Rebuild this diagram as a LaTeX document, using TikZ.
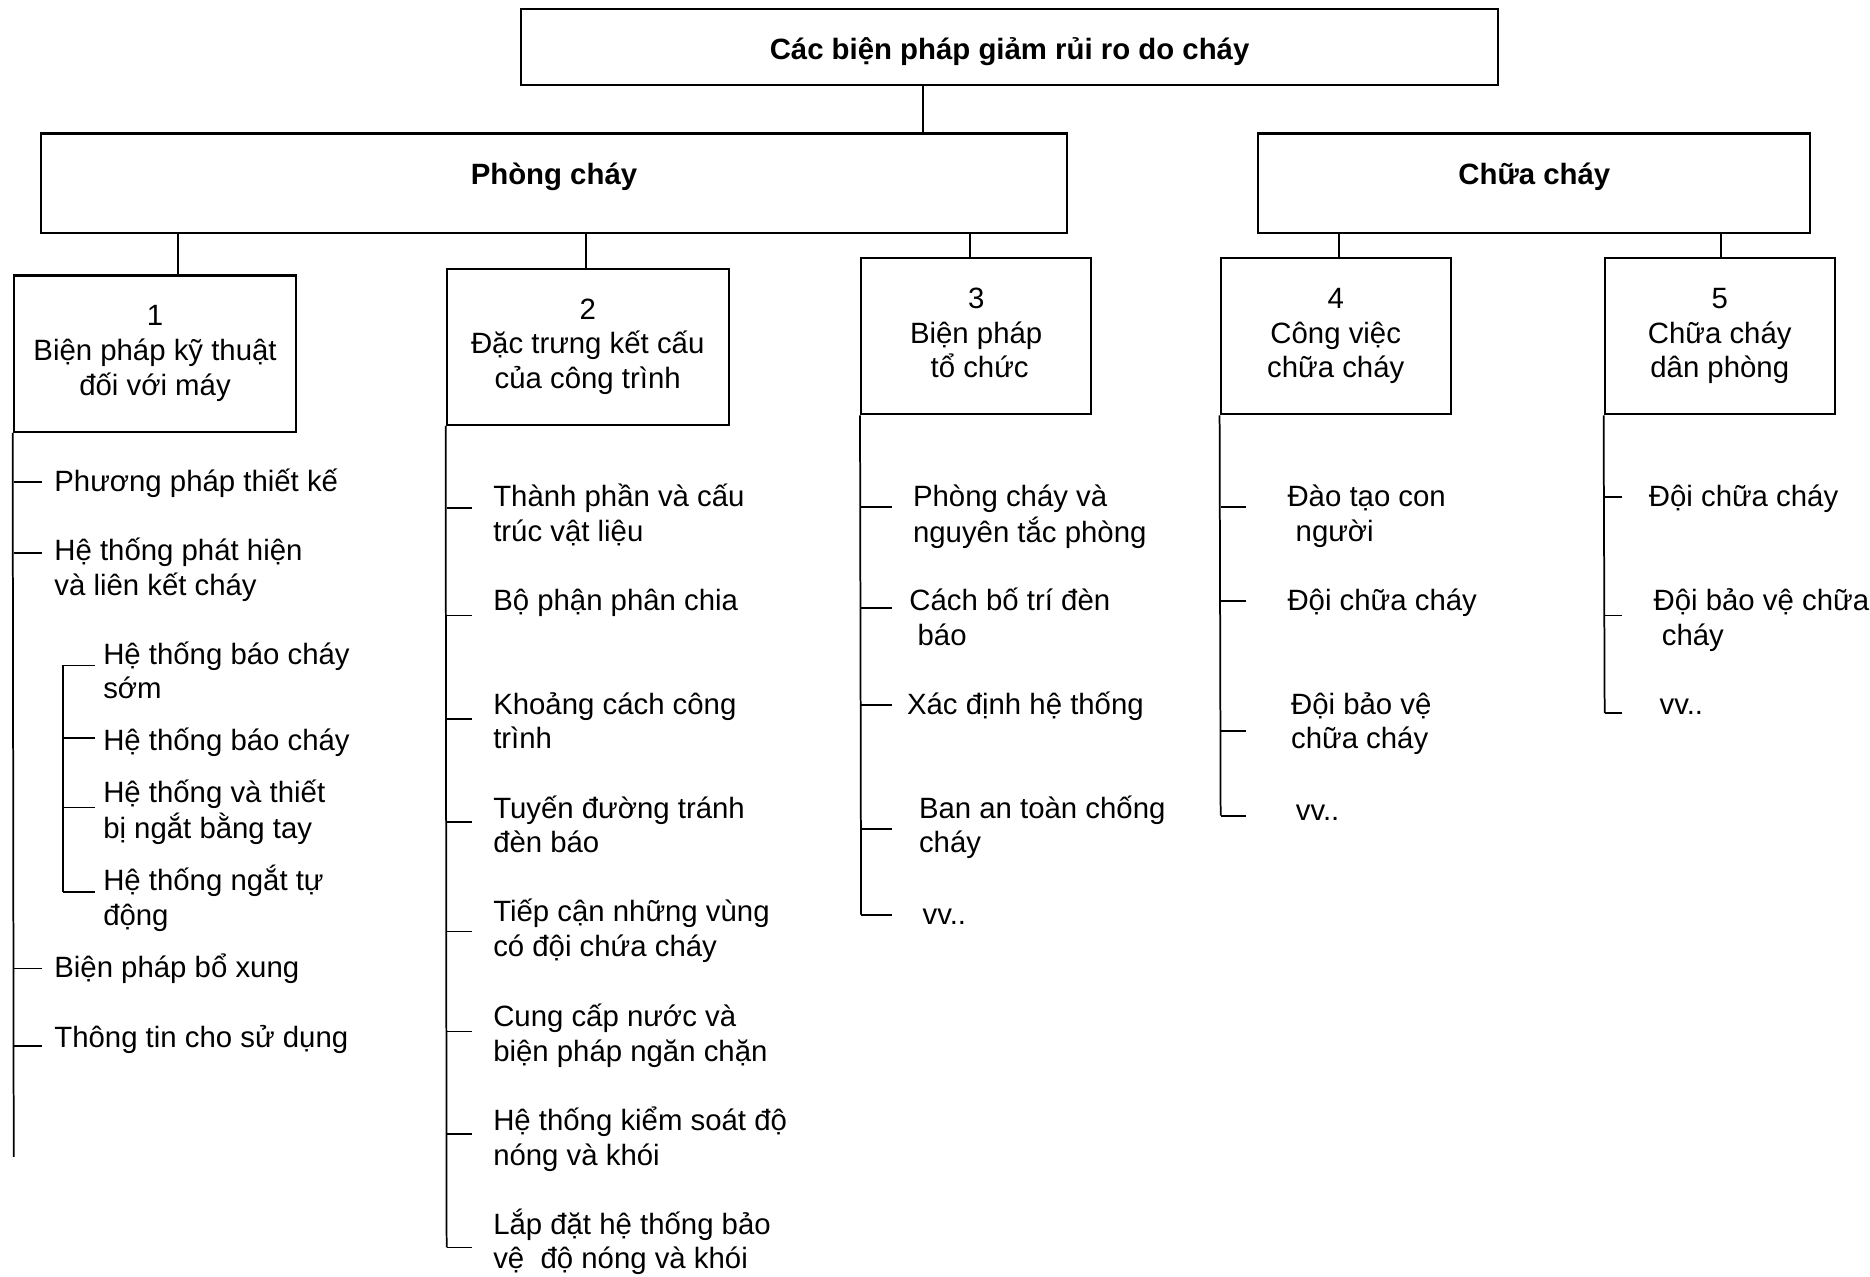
\documentclass[tikz,border=0pt]{standalone}
\usepackage{fontspec}
\setmainfont{Liberation Sans}
\newcommand\ml[1]{\begin{tabular}[t]{@{}l@{}}#1\end{tabular}}
\newcommand\mc[1]{\begin{tabular}{@{}c@{}}#1\end{tabular}}
\newcommand\tk[4]{\coordinate (#1a) at (#2,#4); \coordinate (#1b) at (#3,#4); \draw[ln] (#1a) -- (#1b);}
\begin{document}
\begin{tikzpicture}[x=0.012cm,y=-0.012cm,
  font=\fontsize{8.4}{9.9}\selectfont,
  box/.style={draw,line width=0.6pt,rectangle,inner sep=0pt},
  lbl/.style={anchor=base west,inner sep=0pt},
  ln/.style={line width=0.5pt}]
\useasboundingbox (0,0) rectangle (1568,1070);
% boxes
\node[box,minimum width={819*0.012cm},minimum height={63.5*0.012cm}] (top) at (846.5,39.5) {\raisebox{0pt}[7pt][0pt]{\textbf{Các biện pháp giảm rủi ro do cháy}}};
\node[box,minimum width={860*0.012cm},minimum height={83.5*0.012cm}] (pc) at (464.5,153.7) {\raisebox{0pt}[4pt][3.3pt]{\textbf{Phòng cháy}}};
\node[box,minimum width={463*0.012cm},minimum height={83.5*0.012cm}] (cc) at (1286.5,153.7) {\raisebox{0pt}[4pt][3.3pt]{\textbf{Chữa cháy}}};
\node[box,minimum width={237*0.012cm},minimum height={131*0.012cm}] (b1) at (130,296.5) {\mc{1\\Biện pháp kỹ thuật\\đối với máy}};
\node[box,minimum width={236.5*0.012cm},minimum height={131*0.012cm}] (b2) at (492.8,290.8) {\mc{2\\Đặc trưng kết cấu\\của công trình}};
\node[box,minimum width={193*0.012cm},minimum height={131*0.012cm}] (b3) at (818.5,282) {\mc{3\\Biện pháp\\\hspace*{2pt}tổ chức}};
\node[box,minimum width={193*0.012cm},minimum height={131*0.012cm}] (b4) at (1120,282) {\mc{4\\Công việc\\chữa cháy}};
\node[box,minimum width={193*0.012cm},minimum height={131*0.012cm}] (b5) at (1442,282) {\mc{5\\Chữa cháy\\dân phòng}};
% connectors between boxes
\draw[ln] (top.south -| 774,0) -- (pc.north -| 774,0);
\draw[ln] (pc.south -| 149.5,0) -- (b1.north -| 149.5,0);
\draw[ln] (pc.south -| 491.5,0) -- (b2.north -| 491.5,0);
\draw[ln] (pc.south -| 813.5,0) -- (b3.north -| 813.5,0);
\draw[ln] (cc.south -| 1123,0) -- (b4.north -| 1123,0);
\draw[ln] (cc.south -| 1443,0) -- (b5.north -| 1443,0);
% column 1
\coordinate (v1e) at (11.5,970);
\draw[ln] (b1.south west) -- (v1e);
\tk{ta1}{11.5}{35}{404}
\tk{ta2}{11.5}{35}{464}
\tk{ta3}{11.5}{35}{812}
\tk{ta4}{11.5}{35}{877}
\node[lbl] (a1) at (45,412) {Phương pháp thiết kế};
\node[lbl] (a2) at (45,470) {\ml{Hệ thống phát hiện\\và liên kết cháy}};
\node[lbl] (a3) at (45,820) {Biện pháp bổ xung};
\node[lbl] (a4) at (45,878) {Thông tin cho sử dụng};
\coordinate (s1s) at (53,558);
\coordinate (s1e) at (53,748);
\draw[ln] (s1s) -- (s1e);
\tk{tb1}{53}{80}{558}
\tk{tb2}{53}{80}{619}
\tk{tb3}{53}{80}{677}
\tk{tb4}{53}{80}{748}
\node[lbl] (sb1) at (86,557) {\ml{Hệ thống báo cháy\\sớm}};
\node[lbl] (sb2) at (86,629) {Hệ thống báo cháy};
\node[lbl] (sb3) at (86,673) {\ml{Hệ thống và thiết\\bị ngắt bằng tay}};
\node[lbl] (sb4) at (86,747) {\ml{Hệ thống ngắt tự\\động}};
% column 2
\coordinate (v2e) at (374.5,1046);
\draw[ln] (b2.south west) -- (v2e);
\tk{tc1}{374.5}{396}{426}
\tk{tc2}{374.5}{396}{516}
\tk{tc3}{374.5}{396}{603}
\tk{tc4}{374.5}{396}{689}
\tk{tc5}{374.5}{396}{781}
\tk{tc6}{374.5}{396}{865}
\tk{tc7}{374.5}{396}{951}
\tk{tc8}{374.5}{396}{1046}
\node[lbl] (c1) at (413,425) {\ml{Thành phần và cấu\\trúc vật liệu}};
\node[lbl] (c2) at (413,512) {Bộ phận phân chia};
\node[lbl] (c3) at (413,599) {\ml{Khoảng cách công\\trình}};
\node[lbl] (c4) at (413,686) {\ml{Tuyến đường tránh\\đèn báo}};
\node[lbl] (c5) at (413,773) {\ml{Tiếp cận những vùng\\có đội chứa cháy}};
\node[lbl] (c6) at (413,861) {\ml{Cung cấp nước và\\biện pháp ngăn chặn}};
\node[lbl] (c7) at (413,948) {\ml{Hệ thống kiểm soát độ\\nóng và khói}};
\node[lbl] (c8) at (413,1035) {\ml{Lắp đặt hệ thống bảo\\vệ\ \ độ nóng và khói}};
% column 3
\coordinate (v3e) at (722,767);
\draw[ln] (b3.south west) -- (v3e);
\tk{td1}{722}{748}{425}
\tk{td2}{722}{748}{510}
\tk{td3}{722}{748}{591}
\tk{td4}{722}{748}{695}
\tk{td5}{722}{748}{767}
\node[lbl] (d1) at (765,425) {\ml{Phòng cháy và\\nguyên tắc phòng}};
\node[lbl] (d2) at (762,512) {\ml{Cách bố trí đèn\\\ báo}};
\node[lbl] (d3) at (760,599) {Xác định hệ thống};
\node[lbl] (d4) at (770,686) {\ml{Ban an toàn chống\\cháy}};
\node[lbl] (d5) at (773,775) {vv..};
% column 4
\coordinate (v4e) at (1023.5,684);
\draw[ln] (b4.south west) -- (v4e);
\tk{te1}{1023.5}{1045}{425}
\tk{te2}{1023.5}{1045}{504}
\tk{te3}{1023.5}{1045}{613}
\tk{te4}{1023.5}{1045}{684}
\node[lbl] (e1) at (1079,425) {\ml{Đào tạo con\\\ người}};
\node[lbl] (e2) at (1079,512) {Đội chữa cháy};
\node[lbl] (e3) at (1082,599) {\ml{Đội bảo vệ\\chữa cháy}};
\node[lbl] (e4) at (1086,688) {vv..};
% column 5
\coordinate (v5e) at (1345.5,598);
\draw[ln] (b5.south west) -- (v5e);
\tk{tf1}{1345.5}{1360}{417}
\tk{tf2}{1345.5}{1360}{516}
\tk{tf3}{1345.5}{1360}{598}
\node[lbl] (f1) at (1382,425) {Đội chữa cháy};
\node[lbl] (f2) at (1386,512) {\ml{Đội bảo vệ chữa\\\ cháy}};
\node[lbl] (f3) at (1391,599) {vv..};
\end{tikzpicture}
\end{document}
